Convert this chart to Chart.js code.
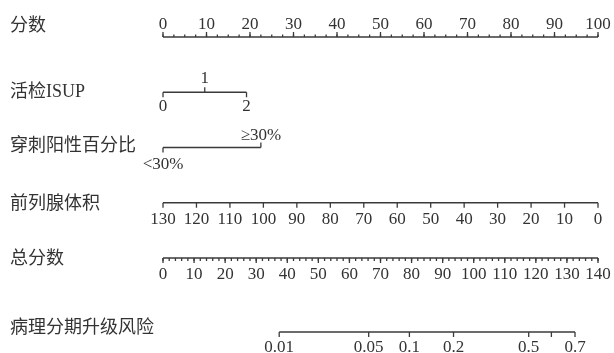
<!DOCTYPE html>
<html>
<head>
<meta charset="utf-8">
<script src="https://cdn.jsdelivr.net/npm/chart.js@4.4.1/dist/chart.umd.min.js"></script>
<style>
  body { margin: 0; background: #fff; }
  #wrap { width: 614px; height: 353px; }
</style>
</head>
<body>
<div id="wrap"><canvas id="nomo" width="614" height="353"></canvas></div>
<script>
// tên các hàng (trục bên trái)
const rowNames = ["分数", "活检ISUP", "穿刺阳性百分比", "前列腺体积", "总分数", "病理分期升级风险"];
const rowPos = [0, 1, 2, 3, 4, 5.34];
const rowLabelPos = [-0.2, 1, 1.98, 3.03, 4.02, 5.28];

// trục điểm 0-100
const pointLabels = [0, 10, 20, 30, 40, 50, 60, 70, 80, 90, 100];

// biến phân loại: mức -> điểm
const isupLevels = ["0", "1", "2"];
const isupPoints = [0, 9.6, 19.2];
const pctLevels = ["<30%", "≥30%"];
const pctPoints = [0, 22.5];

// thể tích tuyến tiền liệt (130 -> 0 điểm, 0 -> 100 điểm)
const volumeLabels = [130, 120, 110, 100, 90, 80, 70, 60, 50, 40, 30, 20, 10, 0];

// tổng điểm
const totalLabels = [0, 10, 20, 30, 40, 50, 60, 70, 80, 90, 100, 110, 120, 130, 140];

// nguy cơ: vị trí đọc theo tổng điểm
const riskLabels = ["0.01", "0.05", "0.1", "0.2", "0.5", "", "0.7"];
const riskTotalPoints = [37.4, 66.2, 79.3, 93.5, 117.7, 125.0, 132.6];

const lineColor = "#3a3a3a";
const textColor = "#333333";
const numFont = "17px 'Liberation Serif', 'DejaVu Serif', serif";
const rowFont = "18px 'Liberation Serif', 'Noto Sans CJK SC', serif";

function seg(x0, x1, row, axisId) {
    return {
        data: [{ x: x0, y: row }, { x: x1, y: row }],
        xAxisID: axisId,
        showLine: true,
        borderColor: lineColor,
        borderWidth: 1.5,
        pointRadius: 0,
        clip: false
    };
}

const nomoPlugin = {
    id: "nomoTicks",
    afterDatasetsDraw(chart) {
        const { ctx } = chart;
        const { x, y, xVol, xTotal } = chart.scales;
        ctx.save();
        ctx.strokeStyle = lineColor;
        ctx.lineWidth = 1.3;
        ctx.fillStyle = textColor;

        function tick(px, py, len) {
            ctx.beginPath();
            ctx.moveTo(px, py);
            ctx.lineTo(px, py + len);
            ctx.stroke();
        }
        function label(txt, px, py) {
            ctx.fillText(txt, px, py);
        }

        // tên hàng
        ctx.font = rowFont;
        ctx.textAlign = "left";
        ctx.textBaseline = "middle";
        rowNames.forEach((name, i) => label(name, 10, y.getPixelForValue(rowLabelPos[i])));

        ctx.font = numFont;
        ctx.textAlign = "center";
        ctx.textBaseline = "alphabetic";

        // hàng điểm
        let ry = y.getPixelForValue(rowPos[0]);
        for (let v = 0; v <= 100; v += 2.5) tick(x.getPixelForValue(v), ry, -2.5);
        pointLabels.forEach(v => {
            const px = x.getPixelForValue(v);
            tick(px, ry, -5);
            label(String(v), px, ry - 8.5);
        });

        // ISUP
        ry = y.getPixelForValue(rowPos[1]);
        isupLevels.forEach((lv, i) => {
            const px = x.getPixelForValue(isupPoints[i]);
            const up = i % 2 === 1;
            tick(px, ry, up ? -5 : 5);
            label(lv, px, up ? ry - 9 : ry + 19);
        });

        // phần trăm dương tính
        ry = y.getPixelForValue(rowPos[2]);
        pctLevels.forEach((lv, i) => {
            const px = x.getPixelForValue(pctPoints[i]);
            const up = i % 2 === 1;
            tick(px, ry, up ? -5 : 5);
            label(lv, px, up ? ry - 7 : ry + 22);
        });

        // thể tích
        ry = y.getPixelForValue(rowPos[3]);
        volumeLabels.forEach(v => {
            const px = xVol.getPixelForValue(v);
            tick(px, ry, 5);
            label(String(v), px, ry + 21);
        });

        // tổng điểm
        ry = y.getPixelForValue(rowPos[4]);
        for (let v = 0; v <= 140; v += 2) tick(xTotal.getPixelForValue(v), ry, 3);
        totalLabels.forEach(v => {
            const px = xTotal.getPixelForValue(v);
            tick(px, ry, 5);
            label(String(v), px, ry + 21);
        });

        // nguy cơ
        ry = y.getPixelForValue(rowPos[5]);
        riskTotalPoints.forEach((tp, i) => {
            const px = xTotal.getPixelForValue(tp);
            tick(px, ry, 5);
            if (riskLabels[i]) label(riskLabels[i], px, ry + 19.5);
        });

        ctx.restore();
    }
};

const ctx = document.getElementById("nomo").getContext("2d");
new Chart(ctx, {
    type: "scatter",
    data: {
        datasets: [
            seg(0, 100, rowPos[0], "x"),
            seg(isupPoints[0], isupPoints[isupPoints.length - 1], rowPos[1], "x"),
            seg(pctPoints[0], pctPoints[pctPoints.length - 1], rowPos[2], "x"),
            seg(volumeLabels[0], volumeLabels[volumeLabels.length - 1], rowPos[3], "xVol"),
            seg(totalLabels[0], totalLabels[totalLabels.length - 1], rowPos[4], "xTotal"),
            seg(riskTotalPoints[0], riskTotalPoints[riskTotalPoints.length - 1], rowPos[5], "xTotal")
        ]
    },
    options: {
        responsive: false,
        animation: false,
        layout: { padding: { left: 163, right: 16, top: 0, bottom: 0 } },
        scales: {
            x: { type: "linear", min: 0, max: 100, display: false },
            xVol: { type: "linear", axis: "x", min: 0, max: 130, reverse: true, display: false },
            xTotal: { type: "linear", axis: "x", min: 0, max: 140, display: false },
            y: { type: "linear", min: -0.67, max: 5.72, reverse: true, display: false }
        },
        plugins: {
            legend: { display: false },
            tooltip: { enabled: false }
        }
    },
    plugins: [nomoPlugin]
});
</script>
</body>
</html>
